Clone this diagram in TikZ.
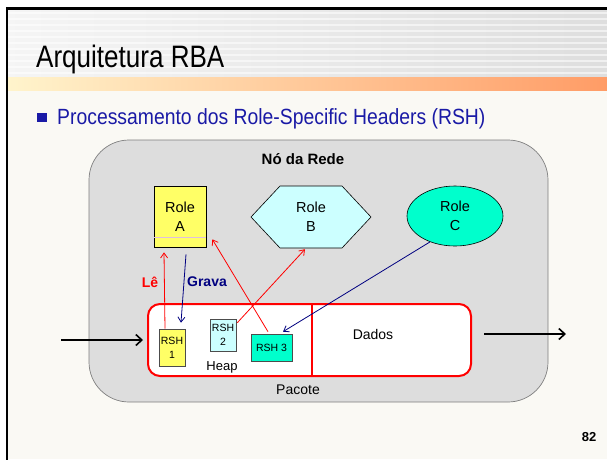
\documentclass[tikz,border=0pt]{standalone}
\usepackage{fontspec}
\setmainfont{Liberation Sans}
\newfontfamily\headfont{Liberation Sans}[FakeStretch=0.88]
\newfontfamily\titlefont{Liberation Sans}[FakeStretch=0.84]
\usetikzlibrary{shapes.geometric,arrows.meta,calc}

\definecolor{cream}{HTML}{FAF9F4}
\definecolor{nodegray}{HTML}{DDDDDD}
\definecolor{rimgray}{HTML}{7F7F7F}
\definecolor{roleyellow}{HTML}{FFFF66}
\definecolor{rolecyan}{HTML}{CCFFFF}
\definecolor{roleaqua}{HTML}{00FFCC}
\definecolor{navyline}{HTML}{000080}
\definecolor{pure red}{HTML}{FF0000}
\definecolor{bulletblue}{HTML}{1A1AA6}
\definecolor{bandleft}{HTML}{FFF4CC}
\definecolor{bandright}{HTML}{FF9C66}

\tikzset{
  rolebox/.style={draw=black, line width=0.6pt, align=center, inner sep=0pt,
                  font=\fontsize{14.5}{19}\selectfont},
  rshbox/.style={draw=black!70, line width=0.6pt, align=center, inner sep=0pt,
                 font=\fontsize{10.5}{14}\selectfont},
  readarrow/.style={draw=pure red, line width=0.8pt, -{Straight Barb[length=5pt,width=7pt]}},
  writearrow/.style={draw=navyline, line width=0.8pt, -{Straight Barb[length=5pt,width=7pt]}},
  flowarrow/.style={draw=black, line width=1.6pt, -{Straight Barb[length=6pt,width=11pt]}},
  plainlabel/.style={inner sep=0pt, font=\fontsize{14}{17}\selectfont},
}

\begin{document}
\begin{tikzpicture}[x=1pt, y=-1pt]
  \useasboundingbox (0,0) rectangle (607,459);
  \fill[white] (0,0) rectangle (607,459);

  % slide body
  \fill[cream] (7,8) rectangle (607,459);
  % striped title area
  \shade[left color=white!96!black, right color=black!13] (7,9) rectangle (607,77);
  \foreach \yy in {13,19,...,75}
    \draw[white, opacity=0.55, line width=1.2pt] (7,\yy) -- (607,\yy);
  % orange rule under the title
  \shade[left color=bandleft, right color=bandright] (7,77) rectangle (607,90);
  % slide frame
  \draw[black, line width=2.5pt] (7,470) -- (7,8.5) -- (620,8.5);

  % title and bullet
  \node[anchor=base west, inner sep=0pt, font=\titlefont\fontsize{31}{36}\selectfont]
    (title) at (36,67) {Arquitetura RBA};
  \fill[bulletblue] (37,113) rectangle (47,122) coordinate (bulletmark);
  \node[anchor=base west, inner sep=0pt, text=bulletblue,
        font=\headfont\fontsize{22}{26}\selectfont]
    (subtitle) at (57,124) {Processamento dos Role-Specific Headers (RSH)};

  % network node container
  \node[draw=rimgray, fill=nodegray, rounded corners=40pt, line width=0.7pt,
        minimum width=459pt, minimum height=262pt, inner sep=0pt]
    (netnode) at (318.5,271) {};
  \node[inner sep=0pt, font=\bfseries\fontsize{15}{18}\selectfont]
    (nodetitle) at (303,159) {Nó da Rede};

  % roles
  \node[rolebox, fill=roleyellow, minimum width=52pt, minimum height=61pt]
    (roleA) at (180,216.5) {Role\\A};
  \draw[color=violet!25, line width=0.8pt]
    ($(roleA.south west)+(0.5,-10)$) -- ($(roleA.south east)+(-0.5,-10)$);

  \filldraw[fill=rolecyan, draw=black, line width=0.6pt]
    (251,217) -- (280,186) -- (342,186) -- (371,217) -- (342,248) -- (280,248) -- cycle;
  \node[align=center, inner sep=0pt, minimum width=120pt, minimum height=62pt,
        font=\fontsize{14.5}{19}\selectfont]
    (roleB) at (311,217) {Role\\B};

  \node[rolebox, ellipse, fill=roleaqua, minimum width=96pt, minimum height=60pt]
    (roleC) at (455,216) {Role\\C};

  % packet
  \node[draw=pure red, fill=white, line width=2pt, rounded corners=12pt,
        minimum width=323pt, minimum height=72pt, inner sep=0pt]
    (pkt) at (309.5,340) {};
  \draw[pure red, line width=2pt] (pkt.north -| 312,0) -- (pkt.south -| 312,0);

  \node[rshbox, fill=roleyellow, minimum width=26pt, minimum height=37pt]
    (rshA) at (172,347.5) {RSH\\1};
  \node[rshbox, fill=rolecyan, minimum width=26pt, minimum height=32pt]
    (rshB) at (223,335) {RSH\\2};
  \node[rshbox, fill=roleaqua, minimum width=41pt, minimum height=27pt]
    (rshC) at (271.5,347.5) {RSH 3};

  \node[plainlabel, font=\fontsize{13}{16}\selectfont] (heap) at (222,367) {Heap};
  \node[plainlabel] (dados) at (373,334) {Dados};
  \node[plainlabel] (pacote) at (298,390) {Pacote};

  % packet in / out
  \coordinate (pktin) at (61,340);
  \coordinate (pktout) at (484,334);
  \coordinate (pktnext) at (566,334);
  \draw[flowarrow] (pktin) -- ([xshift=-4pt]pkt.west);
  \draw[flowarrow] (pktout) -- (pktnext);

  % header reads and writes
  \draw[readarrow] ($(rshA.north)+(-7,0)$) -- ($(roleA.south)+(-16,5)$);
  \draw[writearrow] ($(roleA.south)+(6,7)$) -- ($(rshA.north)+(9,-6)$);
  \draw[readarrow] ($(rshC.north)+(-3.5,-2)$) -- ($(roleA.south east)+(6,-8)$);
  \draw[readarrow] ($(rshB.north east)+(1,4)$) -- ($(roleB.south)+(-6,1)$);
  \draw[writearrow] (roleC.226) -- ($(rshC.north)+(11.5,-2)$);

  \node[inner sep=0pt, text=pure red, font=\bfseries\fontsize{14}{17}\selectfont]
    (le) at (150,282) {Lê};
  \node[inner sep=0pt, text=navyline, font=\bfseries\fontsize{14}{17}\selectfont]
    (grava) at (207,282) {Grava};

  % page number
  \node[inner sep=0pt, font=\bfseries\fontsize{13}{16}\selectfont]
    (pagenum) at (589,437) {82};
\end{tikzpicture}
\end{document}
